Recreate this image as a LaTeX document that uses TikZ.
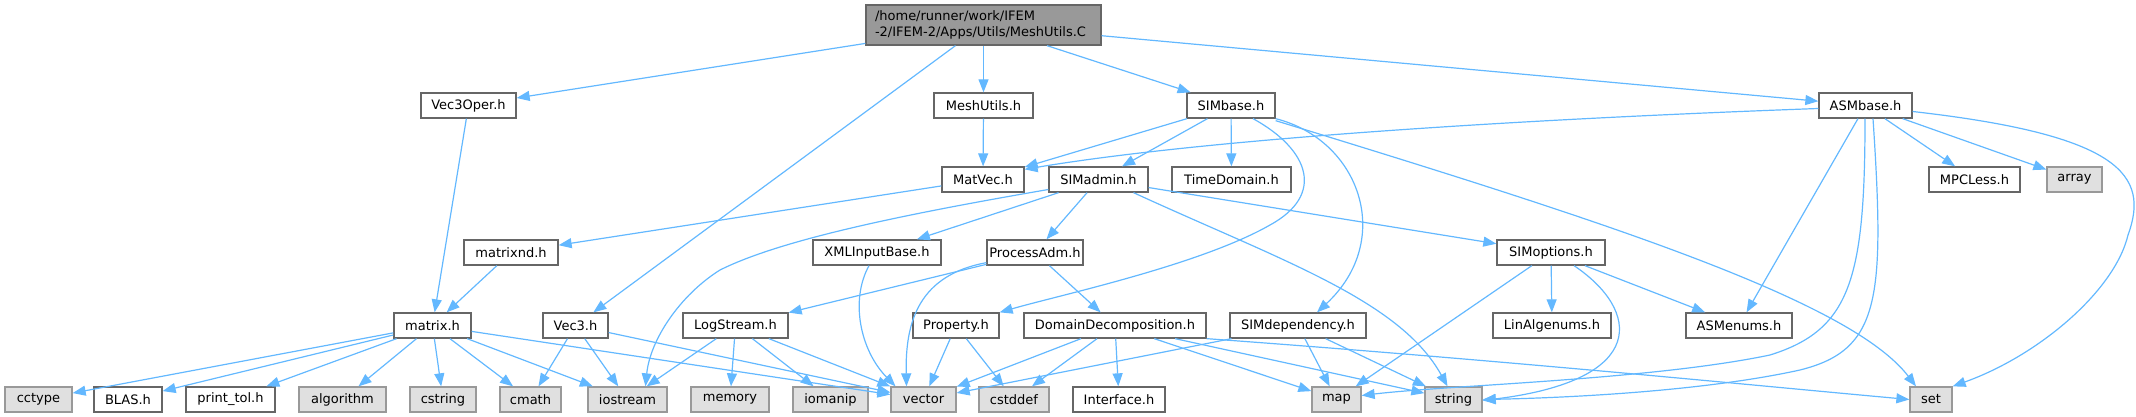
\documentclass[tikz,border=0pt]{standalone}
\usepackage{fontspec}
\setmainfont{DejaVu Sans}
\usetikzlibrary{arrows.meta}
\definecolor{edgeblue}{HTML}{63B8FF}
\definecolor{sysfill}{HTML}{E0E0E0}
\definecolor{sysline}{HTML}{999999}
\definecolor{hdrline}{HTML}{666666}
\definecolor{rootfill}{HTML}{999999}

\begin{document}
\begin{tikzpicture}[x=1pt,y=-1pt,>={Triangle[length=13pt,width=10pt]},font=\fontsize{13}{15.5}\selectfont,
    hdr/.style={draw=hdrline,fill=white,line width=1.3pt,minimum height=25pt,inner sep=0pt},
    sys/.style={hdr,draw=sysline,fill=sysfill},
    dep/.style={->,draw=edgeblue,line width=1.2pt}]
    \useasboundingbox (0,0) rectangle (2136,417);
    % the file itself
    \node[hdr,fill=rootfill,minimum width=235pt,minimum height=40pt,text width=217pt,align=left] (root) at (983.5,25) {/home/runner/work/IFEM\\-2/IFEM-2/Apps/Utils/MeshUtils.C};
    % first level
    \node[hdr,minimum width=95pt] (vecoper) at (468.5,105.5) {Vec3Oper.h};
    \node[hdr,minimum width=99pt] (meshutils) at (983.5,105.5) {MeshUtils.h};
    \node[hdr,minimum width=88pt] (simbase) at (1231,105.5) {SIMbase.h};
    \node[hdr,minimum width=93pt] (asmbase) at (1865.5,105.5) {ASMbase.h};
    % second level
    \node[hdr,minimum width=82pt] (matvec) at (983,179.5) {MatVec.h};
    \node[hdr,minimum width=99pt] (simadmin) at (1098.5,179.5) {SIMadmin.h};
    \node[hdr,minimum width=119pt] (timedomain) at (1231.5,179.5) {TimeDomain.h};
    \node[hdr,minimum width=91pt] (mpcless) at (1974.5,179.5) {MPCLess.h};
    \node[sys,minimum width=55pt] (array) at (2074.5,179.5) {array};
    % third level
    \node[hdr,minimum width=94pt] (matrixnd) at (511,252.5) {matrixnd.h};
    \node[hdr,minimum width=128pt] (xmlbase) at (877,252.5) {XMLInputBase.h};
    \node[hdr,minimum width=96pt] (procadm) at (1035,252.5) {ProcessAdm.h};
    \node[hdr,minimum width=108pt] (simoptions) at (1551,252.5) {SIMoptions.h};
    % fourth level
    \node[hdr,minimum width=77pt] (matrix) at (432.5,325.5) {matrix.h};
    \node[hdr,minimum width=65pt] (vecthree) at (575.5,325.5) {Vec3.h};
    \node[hdr,minimum width=105pt] (logstream) at (735.5,325.5) {LogStream.h};
    \node[hdr,minimum width=86pt] (property) at (956,325.5) {Property.h};
    \node[hdr,minimum width=182pt] (domdec) at (1115,325.5) {DomainDecomposition.h};
    \node[hdr,minimum width=136pt] (simdep) at (1298,325.5) {SIMdependency.h};
    \node[hdr,minimum width=118pt] (linalg) at (1552,325.5) {LinAlgenums.h};
    \node[hdr,minimum width=106pt] (asmenums) at (1739,325.5) {ASMenums.h};
    % bottom row
    \node[sys,minimum width=67pt] (cctype) at (38.5,399.5) {cctype};
    \node[hdr,minimum width=68pt] (blas) at (128,399.5) {BLAS.h};
    \node[hdr,minimum width=89pt] (printtol) at (230.5,399.5) {print\_tol.h};
    \node[sys,minimum width=87pt] (algorithm) at (342.5,399.5) {algorithm};
    \node[sys,minimum width=66pt] (cstring) at (443,399.5) {cstring};
    \node[sys,minimum width=61pt] (cmath) at (530.5,399.5) {cmath};
    \node[sys,minimum width=79pt] (iostream) at (627.5,399.5) {iostream};
    \node[sys,minimum width=78pt] (memory) at (730,399.5) {memory};
    \node[sys,minimum width=75pt] (iomanip) at (830.5,399.5) {iomanip};
    \node[sys,minimum width=65pt] (vector) at (923.5,399.5) {vector};
    \node[sys,minimum width=70pt] (cstddef) at (1014,399.5) {cstddef};
    \node[hdr,minimum width=92pt] (interface) at (1119,399.5) {Interface.h};
    \node[sys,minimum width=49pt] (map) at (1336.5,399.5) {map};
    \node[sys,minimum width=57pt] (string) at (1453.5,399.5) {string};
    \node[sys,minimum width=42pt] (set) at (1931,399.5) {set};

    % includes of the file
    \draw[dep] (root) -- (vecoper);
    \draw[dep] (root) -- (meshutils);
    \draw[dep] (root) -- (simbase);
    \draw[dep] (root) -- (asmbase);
    \draw[dep] (root) -- (vecthree);
    \draw[dep] (vecoper) -- (matrix);
    \draw[dep] (meshutils) -- (matvec);
    % SIMbase.h
    \draw[dep] (simbase) -- (matvec);
    \draw[dep] (simbase) -- (simadmin);
    \draw[dep] (simbase) -- (timedomain);
    \draw[dep] ([xshift=22pt]simbase.south) .. controls (1310,150) and (1325,195) .. (1270,225) .. controls (1200,265) and (1060,295) .. (property.north east);
    \draw[dep] (simbase.south east) .. controls (1360,140) and (1395,240) .. ([xshift=19pt]simdep.north);
    \draw[dep] ([yshift=-2pt]simbase.south east) .. controls (1600,220) and (1850,300) .. ([xshift=-15pt]set.north);
    % ASMbase.h
    \draw[dep] ([yshift=-3pt]asmbase.west) .. controls (1500,120) and (1200,140) .. ([yshift=-3pt]matvec.north east);
    \draw[dep] (asmbase) -- (mpcless);
    \draw[dep] (asmbase) -- (array);
    \draw[dep] (asmbase) -- (asmenums);
    \draw[dep] ([xshift=-0.5pt]asmbase.south) .. controls (1865,280) and (1850,330) .. (1770,355) .. controls (1650,380) and (1450,385) .. ([yshift=4pt]map.east);
    \draw[dep] ([xshift=7.5pt]asmbase.south) .. controls (1885,300) and (1880,350) .. (1800,370) .. controls (1700,392) and (1560,398) .. (string.east);
    \draw[dep] ([yshift=-6pt]asmbase.east) .. controls (2120,135) and (2150,175) .. (2128,235) .. controls (2115,290) and (2040,355) .. (set.north east);
    % MatVec.h and SIMadmin.h
    \draw[dep] (matvec) -- (matrixnd);
    \draw[dep] ([yshift=-10pt]simadmin.west) .. controls (900,215) and (780,240) .. (720,270) .. controls (680,295) and (650,340) .. ([xshift=18pt]iostream.north);
    \draw[dep] (simadmin) -- (xmlbase);
    \draw[dep] (simadmin) -- (procadm);
    \draw[dep] (simadmin) -- (simoptions);
    \draw[dep] ([xshift=35pt]simadmin.south) .. controls (1280,260) and (1400,300) .. ([xshift=-6pt]string.north);
    \draw[dep] (matrixnd) -- (matrix);
    % third level
    \draw[dep] ([xshift=-8pt]xmlbase.south) .. controls (850,300) and (860,350) .. ([xshift=-28pt]vector.north);
    \draw[dep] ([yshift=3pt]procadm.south west) .. controls (920,275) and (905,320) .. ([xshift=-17pt]vector.north);
    \draw[dep] (procadm) -- (logstream);
    \draw[dep] (procadm) -- (domdec);
    \draw[dep] (simoptions) -- (map);
    \draw[dep] (simoptions) -- (linalg);
    \draw[dep] (simoptions) -- (asmenums);
    \draw[dep] ([xshift=23pt]simoptions.south) .. controls (1640,310) and (1650,380) .. ([yshift=-1pt]string.east);
    % fourth level
    \foreach \t in {cctype,blas,printtol,algorithm,cstring,cmath,iostream,vector}
        \draw[dep] (matrix) -- (\t);
    \foreach \t in {cmath,iostream,vector}
        \draw[dep] (vecthree) -- (\t);
    \foreach \t in {iostream,memory,iomanip,vector}
        \draw[dep] (logstream) -- (\t);
    \draw[dep] (property) -- (vector);
    \draw[dep] (property) -- (cstddef);
    \foreach \t in {vector,cstddef,interface,map,string}
        \draw[dep] (domdec) -- (\t);
    \draw[dep] (domdec.south east) .. controls (1500,360) and (1750,385) .. (set.west);
    \foreach \t in {vector,map,string}
        \draw[dep] (simdep) -- (\t);
\end{tikzpicture}
\end{document}
